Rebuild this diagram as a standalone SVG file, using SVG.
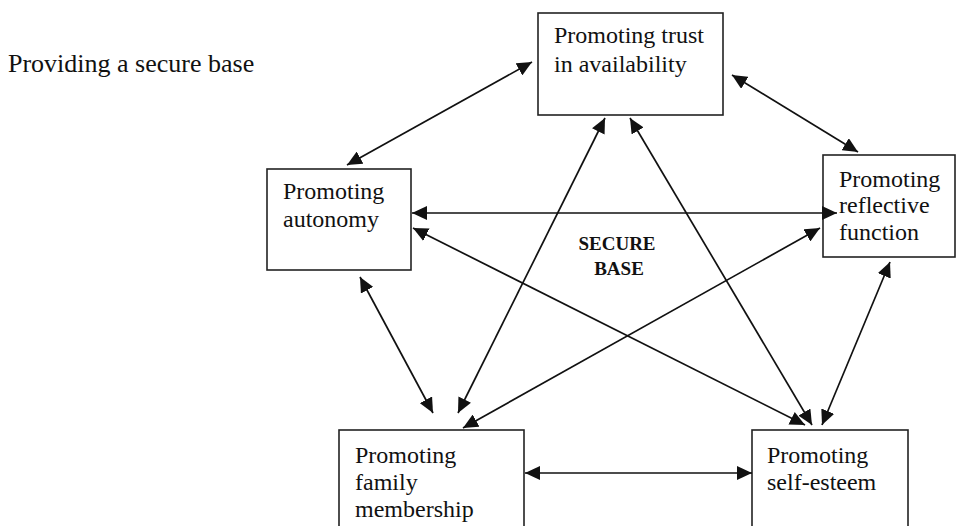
<svg xmlns="http://www.w3.org/2000/svg" width="958" height="526" viewBox="0 0 958 526">
<style>
.box{fill:#fff;stroke:#222;stroke-width:1.6}
.t{font-family:"Liberation Serif","Times New Roman",serif;font-size:24px;fill:#111}
.b{font-family:"Liberation Serif","Times New Roman",serif;font-size:19px;font-weight:bold;fill:#111;text-anchor:middle}
.c{stroke:#111;stroke-width:1.7;fill:none;marker-start:url(#ah);marker-end:url(#ah)}
</style>
<defs>
<marker id="ah" viewBox="0 0 15 14" refX="15" refY="7" markerWidth="15" markerHeight="14" markerUnits="userSpaceOnUse" orient="auto-start-reverse">
<path d="M0,0 L15,7 L0,14 Z" fill="#111"/>
</marker>
</defs>
<rect width="958" height="526" fill="#fff"/>
<text class="t" x="8" y="72" style="font-size:26px">Providing a secure base</text>
<g id="trust"><rect class="box" x="538" y="13" width="185" height="102"/><text class="t" x="554" y="43">Promoting trust</text><text class="t" x="554" y="72">in availability</text></g>
<g id="autonomy"><rect class="box" x="267" y="169" width="144" height="101"/><text class="t" x="283" y="199">Promoting</text><text class="t" x="283" y="227">autonomy</text></g>
<g id="reflective"><rect class="box" x="823" y="155" width="132" height="102"/><text class="t" x="839" y="187">Promoting</text><text class="t" x="839" y="213">reflective</text><text class="t" x="839" y="240">function</text></g>
<g id="family"><rect class="box" x="339" y="430" width="185" height="100"/><text class="t" x="355" y="463">Promoting</text><text class="t" x="355" y="490">family</text><text class="t" x="355" y="517">membership</text></g>
<g id="selfesteem"><rect class="box" x="752" y="430" width="156" height="100"/><text class="t" x="767" y="463">Promoting</text><text class="t" x="767" y="490">self-esteem</text></g>
<g id="center"><text class="b" x="617" y="250">SECURE</text><text class="b" x="619" y="275">BASE</text></g>
<g id="connectors">
<line class="c" x1="532" y1="62" x2="347" y2="165"/>
<line class="c" x1="732" y1="75" x2="858" y2="152"/>
<line class="c" x1="412" y1="213" x2="837" y2="213"/>
<line class="c" x1="360" y1="277" x2="433" y2="413"/>
<line class="c" x1="605" y1="118" x2="458" y2="413"/>
<line class="c" x1="630" y1="118" x2="812" y2="425"/>
<line class="c" x1="413" y1="228" x2="805" y2="425"/>
<line class="c" x1="820" y1="228" x2="463" y2="428"/>
<line class="c" x1="890" y1="262" x2="822" y2="425"/>
<line class="c" x1="525" y1="473" x2="752" y2="473"/>
</g>
</svg>
